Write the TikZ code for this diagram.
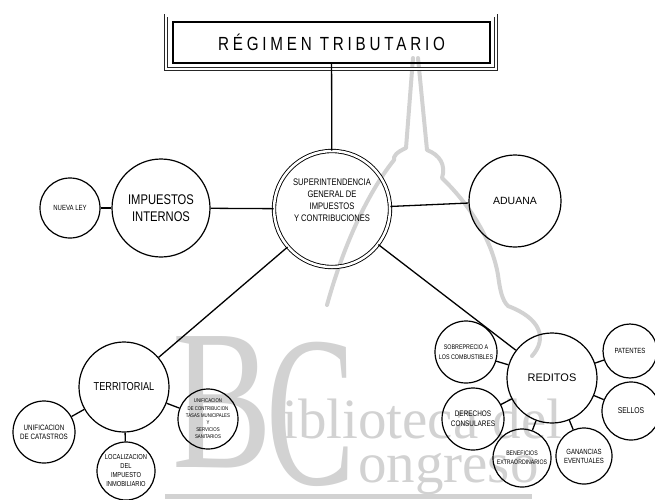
\documentclass[tikz,border=0pt]{standalone}
\usepackage{fontspec}
\setmainfont{Liberation Serif}
\setsansfont{Liberation Sans}
\newfontfamily\condfont[FakeStretch=0.8]{Liberation Sans}
\newfontfamily\titlefont[FakeStretch=0.8,LetterSpace=20]{Liberation Sans}
\newfontfamily\wmfont{Liberation Serif}
\newcommand\fsz[2]{\fontsize{#1}{#2}\selectfont}
\definecolor{wmgray}{HTML}{D2D2D2}
\begin{document}
\begin{tikzpicture}[x=1pt,y=-1pt,
  bub/.style={circle, draw, line width=1.2pt, inner sep=0pt, align=center, text=black},
  link/.style={line width=1.3pt},
  wm/.style={text=wmgray, inner sep=0pt, font=\wmfont}
]
\useasboundingbox (0,0) rectangle (655,499);
% ---------- watermark ----------
\node[wm, anchor=base west] (wmB) at (172,467) {\fsz{200}{200}\scalebox{0.75}[1]{B}};
\node[wm, anchor=base west] (wmC) at (266,484) {\fsz{215}{215}\scalebox{0.62}[1]{C}};
\node[wm, anchor=base west] (wmt1) at (282,438) {\fsz{57}{57}iblioteca del};
\node[wm, anchor=base west] (wmt2) at (358,482) {\fsz{57}{57}ongreso};
\fill[wmgray] (165,494) rectangle (532,499);
\draw[wmgray, line width=4pt, line join=round, line cap=round]
  (413,58) -- (406,148) .. controls (397,152) and (393,156) .. (394,160)
  .. controls (370,190) and (345,240) .. (327,305);
\draw[wmgray, line width=4pt, line join=round, line cap=round]
  (418,58) -- (427,150) .. controls (440,155) and (446,165) .. (442,178)
  .. controls (470,205) and (492,240) .. (498,275)
  .. controls (500,290) and (502,300) .. (508,306)
  .. controls (540,318) and (548,338) .. (532,356);
% ---------- title ----------
\draw[black!85, line width=0.5pt, double, double distance=2.5pt] (166,15.5) rectangle (496,69);
\node[draw, line width=1.6pt, minimum width=317pt, minimum height=41pt, inner sep=0pt,
      font=\titlefont\fsz{19}{19}] (title) at (331.5,42.5) {RÉGIMEN TRIBUTARIO};
% ---------- nodes ----------
\node[bub, minimum size=116pt, double, double distance=2.5pt, line width=0.9pt,
      font=\condfont\fsz{9.5}{12}] (sup) at (332,209)
      {SUPERINTENDENCIA\\GENERAL DE\\IMPUESTOS\\Y CONTRIBUCIONES\\[5pt]};
\node[bub, minimum size=98pt, font=\condfont\fsz{14}{17}] (impint) at (161,208) {IMPUESTOS\\INTERNOS};
\node[bub, minimum size=60pt, font=\condfont\fsz{7.5}{8}] (nueva) at (70,208) {NUEVA LEY};
\node[bub, minimum size=92pt, font=\sffamily\fsz{10.5}{12}] (aduana) at (515,201) {ADUANA};
\node[bub, minimum size=90pt, font=\condfont\fsz{11.5}{13}] (terr) at (124,387) {TERRITORIAL};
\node[bub, minimum size=62pt, font=\condfont\fsz{7.8}{9}] (cat) at (44,432) {UNIFICACION\\DE CATASTROS};
\node[bub, minimum size=58pt, font=\condfont\fsz{7.2}{9}] (loc) at (126,471) {LOCALIZACION\\DEL\\IMPUESTO\\INMOBILIARIO};
\node[bub, minimum size=60pt, font=\condfont\fsz{5.4}{7.2}] (contr) at (208,419)
      {UNIFICACION\\DE CONTRIBUCION\\TASAS MUNICIPALES\\Y\\SERVICIOS\\SANITARIOS};
\node[bub, minimum size=90pt, font=\sffamily\fsz{11}{13}] (red) at (552,378) {REDITOS};
\node[bub, minimum size=62pt, font=\condfont\fsz{6.7}{10}] (sobre) at (466,352) {SOBREPRECIO A\\LOS COMBUSTIBLES};
\node[bub, minimum size=54pt, font=\condfont\fsz{7.5}{9}] (pat) at (630,351) {PATENTES};
\node[bub, minimum size=58pt, font=\condfont\fsz{8.5}{9}] (sel) at (631,411) {SELLOS};
\node[bub, minimum size=62pt, font=\condfont\fsz{8}{10}] (der) at (473,419) {DERECHOS\\CONSULARES};
\node[bub, minimum size=58pt, font=\condfont\fsz{6.5}{9}] (ben) at (522,458) {BENEFICIOS\\EXTRAORDINARIOS};
\node[bub, minimum size=56pt, font=\condfont\fsz{7.5}{9}] (gan) at (584,456) {GANANCIAS\\EVENTUALES};
% ---------- connectors ----------
\draw[link] (title) -- (sup);
\draw[link] (sup) -- (impint);
\draw[link] (impint) -- (nueva);
\draw[link] (sup) -- (aduana);
\draw[link] (sup) -- (terr);
\draw[link] (sup) -- (red);
\draw[link] (terr) -- (cat);
\draw[link] (terr) -- (loc);
\draw[link] (terr) -- (contr);
\draw[link] (red) -- (sobre);
\draw[link] (red) -- (pat);
\draw[link] (red) -- (sel);
\draw[link] (red) -- (der);
\draw[link] (red) -- (ben);
\draw[link] (red) -- (gan);
\end{tikzpicture}
\end{document}
